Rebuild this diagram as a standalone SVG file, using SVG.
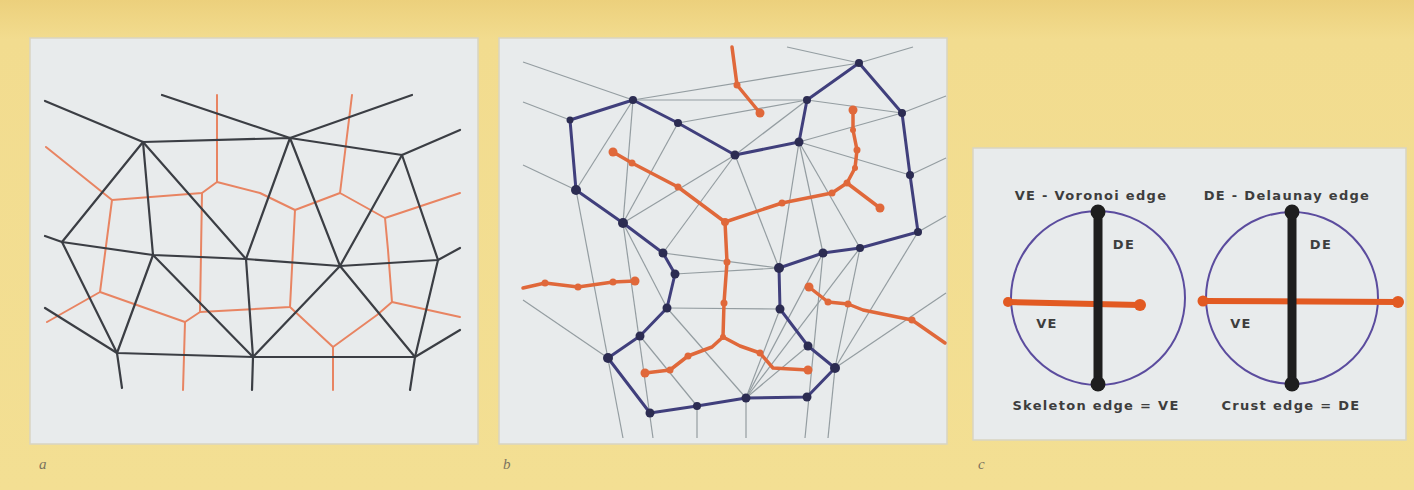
<svg xmlns="http://www.w3.org/2000/svg" width="1414" height="490" viewBox="0 0 1414 490">
<defs>
<linearGradient id="bg" x1="0" y1="0" x2="0" y2="1">
<stop offset="0" stop-color="#ecd07c"/>
<stop offset="0.08" stop-color="#f2dc8f"/>
<stop offset="1" stop-color="#f3df93"/>
</linearGradient>
</defs>
<style>
.panel{fill:#e8ebec;stroke:#d9d5c2;stroke-width:1.5}
.dl{stroke:#3b3e44;stroke-width:2.2;fill:none;stroke-linecap:round;stroke-linejoin:round}
.vr{stroke:#e88462;stroke-width:2;fill:none;stroke-linecap:round;stroke-linejoin:round}
.gr{stroke:#949da1;stroke-width:1.2;fill:none}
.bl{stroke:#403f7c;stroke-width:3;fill:none;stroke-linejoin:round}
.bn{fill:#2c2c52}
.sk{stroke:#e0683a;stroke-width:3.5;fill:none;stroke-linecap:round;stroke-linejoin:round}
.sn{fill:#e0683a}
.lbl{font-family:"DejaVu Sans",Verdana,sans-serif;font-weight:bold;font-size:13px;letter-spacing:1.3px;fill:#3d3d3d;text-anchor:middle}
.pl{font-family:"Liberation Serif",serif;font-style:italic;font-size:15px;fill:#7b735f}
.circ{fill:none;stroke:#5b4c9e;stroke-width:2}
.bar{stroke:#1e1e1e;stroke-width:9}
.obar{stroke:#e25a22;stroke-width:6;stroke-linecap:round}
</style>
<rect x="0" y="0" width="1414" height="490" fill="url(#bg)"/>

<g id="panel-a">
<rect class="panel" x="30" y="38" width="448" height="406"/>
<g id="a-voronoi">
<polyline class="vr" points="46,147 112,200 202,193 217,182 260,193 295,210 340,193 385,218 460,193"/>
<line class="vr" x1="217" y1="95" x2="217" y2="182"/>
<line class="vr" x1="352" y1="95" x2="340" y2="193"/>
<polyline class="vr" points="112,200 100,292 47,322"/>
<polyline class="vr" points="100,292 185,322 183,390"/>
<polyline class="vr" points="202,193 200,312 185,322"/>
<polyline class="vr" points="200,312 290,307 295,210"/>
<polyline class="vr" points="290,307 333,347 333,390"/>
<polyline class="vr" points="333,347 377,315 392,302 460,317"/>
<polyline class="vr" points="385,218 388,250 392,302"/>
</g>
<g id="a-delaunay">
<polyline class="dl" points="45,101 143,142 290,138 402,155 460,130"/>
<line class="dl" x1="162" y1="95" x2="290" y2="138"/>
<line class="dl" x1="290" y1="138" x2="412" y2="95"/>
<polyline class="dl" points="45,236 62,242 153,255 246,259 340,266 438,260 460,248"/>
<line class="dl" x1="143" y1="142" x2="62" y2="242"/>
<line class="dl" x1="143" y1="142" x2="153" y2="255"/>
<line class="dl" x1="143" y1="142" x2="246" y2="259"/>
<line class="dl" x1="290" y1="138" x2="246" y2="259"/>
<line class="dl" x1="290" y1="138" x2="340" y2="266"/>
<line class="dl" x1="402" y1="155" x2="340" y2="266"/>
<line class="dl" x1="402" y1="155" x2="438" y2="260"/>
<line class="dl" x1="62" y1="242" x2="117" y2="353"/>
<line class="dl" x1="153" y1="255" x2="117" y2="353"/>
<line class="dl" x1="153" y1="255" x2="253" y2="357"/>
<polyline class="dl" points="246,259 253,357 252,390"/>
<line class="dl" x1="340" y1="266" x2="253" y2="357"/>
<line class="dl" x1="340" y1="266" x2="415" y2="357"/>
<line class="dl" x1="438" y1="260" x2="415" y2="357"/>
<polyline class="dl" points="45,308 117,353 253,357 415,357 460,330"/>
<line class="dl" x1="117" y1="353" x2="122" y2="388"/>
<line class="dl" x1="415" y1="357" x2="410" y2="390"/>
</g>
</g>

<g id="panel-b">
<rect class="panel" x="499" y="38" width="448" height="406"/>
<g id="b-triangulation">
<line class="gr" x1="523" y1="62" x2="633" y2="100"/>
<line class="gr" x1="523" y1="102" x2="570" y2="120"/>
<line class="gr" x1="523" y1="165" x2="576" y2="190"/>
<line class="gr" x1="523" y1="300" x2="608" y2="358"/>
<line class="gr" x1="633" y1="100" x2="859" y2="63"/>
<line class="gr" x1="633" y1="100" x2="807" y2="100"/>
<line class="gr" x1="787" y1="47" x2="859" y2="63"/>
<line class="gr" x1="859" y1="63" x2="913" y2="47"/>
<line class="gr" x1="807" y1="100" x2="902" y2="113"/>
<line class="gr" x1="902" y1="113" x2="946" y2="96"/>
<line class="gr" x1="910" y1="175" x2="946" y2="158"/>
<line class="gr" x1="918" y1="232" x2="946" y2="216"/>
<line class="gr" x1="633" y1="100" x2="623" y2="223"/>
<line class="gr" x1="633" y1="100" x2="576" y2="190"/>
<line class="gr" x1="678" y1="123" x2="623" y2="223"/>
<line class="gr" x1="678" y1="123" x2="807" y2="100"/>
<line class="gr" x1="735" y1="155" x2="807" y2="100"/>
<line class="gr" x1="735" y1="155" x2="623" y2="223"/>
<line class="gr" x1="735" y1="155" x2="663" y2="253"/>
<line class="gr" x1="735" y1="155" x2="779" y2="268"/>
<line class="gr" x1="799" y1="142" x2="902" y2="113"/>
<line class="gr" x1="799" y1="142" x2="910" y2="175"/>
<line class="gr" x1="799" y1="142" x2="779" y2="268"/>
<line class="gr" x1="799" y1="142" x2="823" y2="253"/>
<line class="gr" x1="799" y1="142" x2="860" y2="248"/>
<line class="gr" x1="576" y1="190" x2="623" y2="438"/>
<line class="gr" x1="623" y1="223" x2="653" y2="438"/>
<line class="gr" x1="623" y1="223" x2="667" y2="308"/>
<line class="gr" x1="640" y1="336" x2="697" y2="406"/>
<line class="gr" x1="697" y1="406" x2="697" y2="438"/>
<line class="gr" x1="663" y1="253" x2="779" y2="268"/>
<line class="gr" x1="675" y1="274" x2="779" y2="268"/>
<line class="gr" x1="667" y1="308" x2="780" y2="309"/>
<line class="gr" x1="667" y1="308" x2="746" y2="398"/>
<line class="gr" x1="780" y1="309" x2="746" y2="398"/>
<line class="gr" x1="808" y1="346" x2="746" y2="398"/>
<line class="gr" x1="746" y1="398" x2="746" y2="438"/>
<line class="gr" x1="823" y1="253" x2="805" y2="438"/>
<line class="gr" x1="835" y1="368" x2="828" y2="438"/>
<line class="gr" x1="835" y1="368" x2="946" y2="293"/>
<line class="gr" x1="835" y1="368" x2="918" y2="232"/>
<line class="gr" x1="835" y1="368" x2="860" y2="248"/>
<line class="gr" x1="746" y1="398" x2="823" y2="253"/>
<line class="gr" x1="746" y1="398" x2="860" y2="248"/>
</g>
<g id="b-crust">
<polygon class="bl" points="570,120 633,100 678,123 735,155 799,142 807,100 859,63 902,113 910,175 918,232 860,248 823,253 779,268 780,309 808,346 835,368 807,397 746,398 697,406 650,413 608,358 640,336 667,308 675,274 663,253 623,223 576,190"/>
<g class="bn">
<circle cx="570" cy="120" r="3.5"/><circle cx="633" cy="100" r="4"/><circle cx="678" cy="123" r="4"/><circle cx="735" cy="155" r="4.5"/><circle cx="799" cy="142" r="4.5"/><circle cx="807" cy="100" r="4"/><circle cx="859" cy="63" r="4"/><circle cx="902" cy="113" r="4"/><circle cx="910" cy="175" r="4"/><circle cx="918" cy="232" r="4"/><circle cx="860" cy="248" r="4"/><circle cx="823" cy="253" r="4.5"/><circle cx="779" cy="268" r="5"/><circle cx="780" cy="309" r="4.5"/><circle cx="808" cy="346" r="4.5"/><circle cx="835" cy="368" r="5"/><circle cx="807" cy="397" r="4.5"/><circle cx="746" cy="398" r="4.5"/><circle cx="697" cy="406" r="4"/><circle cx="650" cy="413" r="4.5"/><circle cx="608" cy="358" r="5"/><circle cx="640" cy="336" r="4.5"/><circle cx="667" cy="308" r="4.5"/><circle cx="675" cy="274" r="4.5"/><circle cx="663" cy="253" r="4.5"/><circle cx="623" cy="223" r="5"/><circle cx="576" cy="190" r="5"/>
</g>
</g>
<g id="b-skeleton">
<polyline class="sk" points="732,47 737,85 760,113"/>
<polyline class="sk" points="613,152 632,163 678,187 725,222"/>
<polyline class="sk" points="725,222 782,203 832,193 847,183 880,208"/>
<polyline class="sk" points="847,183 855,168 857,150 853,130 853,110"/>
<polyline class="sk" points="725,222 727,262 724,303 723,337"/>
<polyline class="sk" points="723,337 712,347 688,356 670,370 645,373"/>
<polyline class="sk" points="723,337 740,346 760,353 773,368 808,370"/>
<polyline class="sk" points="523,288 545,283 578,287 613,282 635,281"/>
<polyline class="sk" points="809,287 828,302 848,304 863,310 912,320 945,343"/>
<g class="sn">
<circle cx="737" cy="85" r="3.5"/><circle cx="760" cy="113" r="4.5"/>
<circle cx="613" cy="152" r="4.5"/><circle cx="632" cy="163" r="3.5"/><circle cx="678" cy="187" r="3.5"/><circle cx="725" cy="222" r="4"/>
<circle cx="782" cy="203" r="3.5"/><circle cx="832" cy="193" r="3.5"/><circle cx="847" cy="183" r="3.5"/><circle cx="880" cy="208" r="4.5"/>
<circle cx="855" cy="168" r="3"/><circle cx="857" cy="150" r="3.5"/><circle cx="853" cy="130" r="3"/><circle cx="853" cy="110" r="4.5"/>
<circle cx="727" cy="262" r="3.5"/><circle cx="724" cy="303" r="3.5"/><circle cx="723" cy="337" r="3"/>
<circle cx="688" cy="356" r="3.5"/><circle cx="670" cy="370" r="3.5"/><circle cx="645" cy="373" r="4.5"/>
<circle cx="760" cy="353" r="3.5"/><circle cx="808" cy="370" r="4.5"/>
<circle cx="545" cy="283" r="3.5"/><circle cx="578" cy="287" r="3.5"/><circle cx="613" cy="282" r="3.5"/><circle cx="635" cy="281" r="4.5"/>
<circle cx="809" cy="287" r="4.5"/><circle cx="828" cy="302" r="3.5"/><circle cx="848" cy="304" r="3.5"/><circle cx="912" cy="320" r="3.5"/>
</g>
</g>
</g>

<g id="panel-c">
<rect class="panel" x="973" y="148" width="433" height="292"/>
<g id="c-left">
<circle class="circ" cx="1098" cy="298" r="87"/>
<line class="obar" x1="1008" y1="302" x2="1140" y2="305"/>
<circle cx="1008" cy="302" r="5" fill="#e25a22"/>
<circle cx="1140" cy="305" r="6" fill="#e25a22"/>
<line class="bar" x1="1098" y1="212" x2="1098" y2="384"/>
<circle cx="1098" cy="212" r="7.5" fill="#1e1e1e"/>
<circle cx="1098" cy="384" r="7.5" fill="#1e1e1e"/>
<text class="lbl" x="1091" y="200">VE - Voronoi edge</text>
<text class="lbl" x="1124" y="249">DE</text>
<text class="lbl" x="1047" y="328">VE</text>
<text class="lbl" x="1096" y="410">Skeleton edge = VE</text>
</g>
<g id="c-right">
<circle class="circ" cx="1292" cy="298" r="86"/>
<line class="obar" x1="1203" y1="301" x2="1398" y2="302"/>
<circle cx="1203" cy="301" r="5.5" fill="#e25a22"/>
<circle cx="1398" cy="302" r="6" fill="#e25a22"/>
<line class="bar" x1="1292" y1="212" x2="1292" y2="384"/>
<circle cx="1292" cy="212" r="7.5" fill="#1e1e1e"/>
<circle cx="1292" cy="384" r="7.5" fill="#1e1e1e"/>
<text class="lbl" x="1287" y="200">DE - Delaunay edge</text>
<text class="lbl" x="1321" y="249">DE</text>
<text class="lbl" x="1241" y="328">VE</text>
<text class="lbl" x="1291" y="410">Crust edge = DE</text>
</g>
</g>

<g id="panel-labels">
<text class="pl" x="39" y="469">a</text>
<text class="pl" x="503" y="469">b</text>
<text class="pl" x="978" y="469">c</text>
</g>
</svg>
